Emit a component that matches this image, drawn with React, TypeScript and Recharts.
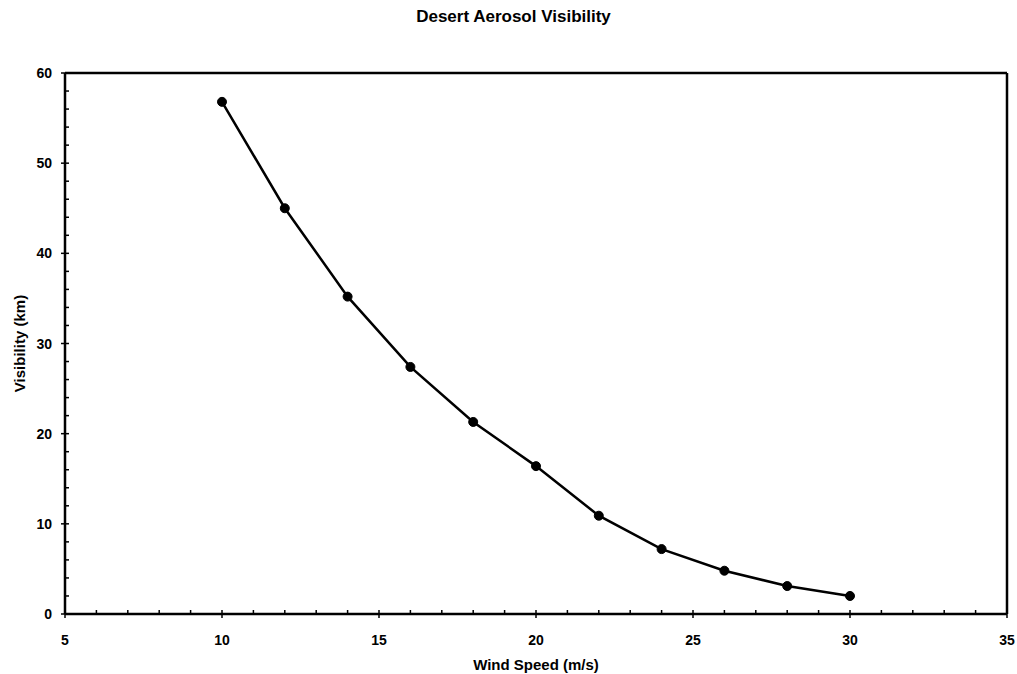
import React from 'react';
import {
  LineChart,
  Line,
  XAxis,
  YAxis,
  ReferenceLine,
} from 'recharts';

// values
const windSpeed = [10, 12, 14, 16, 18, 20, 22, 24, 26, 28, 30];
const visibility = [56.8, 45.0, 35.2, 27.4, 21.3, 16.4, 10.9, 7.2, 4.8, 3.1, 2.0];

const xTicks = [5, 6, 7, 8, 9, 10, 11, 12, 13, 14, 15, 16, 17, 18, 19, 20, 21, 22, 23, 24, 25, 26, 27, 28, 29, 30, 31, 32, 33, 34, 35];
const yTicks = [0, 2, 4, 6, 8, 10, 12, 14, 16, 18, 20, 22, 24, 26, 28, 30, 32, 34, 36, 38, 40, 42, 44, 46, 48, 50, 52, 54, 56, 58, 60];

const chartData = windSpeed.map((w, i) => ({ wind: w, vis: visibility[i] }));

const FONT = '"Liberation Sans", Arial, Helvetica, sans-serif';

const XTick = ({ x, y, payload }: any) => {
  const v = payload.value;
  const major = v % 5 === 0;
  return (
    <g>
      <line x1={x} x2={x} y1={major ? y + 4 : y} y2={y - 4} stroke="#000" strokeWidth={1.5} />
      {major && (
        <text x={x} y={y + 31} textAnchor="middle" fontFamily={FONT} fontWeight="bold" fontSize={14} fill="#000">
          {v}
        </text>
      )}
    </g>
  );
};

const YTick = ({ x, y, payload }: any) => {
  const v = payload.value;
  const major = v % 10 === 0;
  return (
    <g>
      <line x1={major ? x - 4 : x} x2={x + 4} y1={y} y2={y} stroke="#000" strokeWidth={1.5} />
      {major && (
        <text x={x - 13} y={y + 5} textAnchor="end" fontFamily={FONT} fontWeight="bold" fontSize={14} fill="#000">
          {v}
        </text>
      )}
    </g>
  );
};

const App: React.FC = () => {
  return (
    <div style={{ position: 'absolute', left: 0, top: 0, width: 1017, height: 674, background: '#fff' }}>
      <div
        style={{
          position: 'absolute',
          top: 7,
          left: 0,
          width: 1027,
          textAlign: 'center',
          fontFamily: FONT,
          fontWeight: 'bold',
          fontSize: 17,
        }}
      >
        Desert Aerosol Visibility
      </div>
      <LineChart
        width={1017}
        height={674}
        data={chartData}
        margin={{ top: 73, right: 10, bottom: 0, left: 0 }}
      >
        <XAxis
          type="number"
          dataKey="wind"
          domain={[5, 35]}
          ticks={xTicks}
          interval={0}
          height={60}
          tickSize={0}
          tickMargin={0}
          tickLine={false}
          tick={<XTick />}
          axisLine={{ stroke: '#000', strokeWidth: 2.5 }}
          label={{ value: 'Wind Speed (m/s)', position: 'insideBottom', offset: 4, fontFamily: FONT, fontWeight: 'bold', fontSize: 15, fill: '#000' }}
        />
        <YAxis
          type="number"
          domain={[0, 60]}
          ticks={yTicks}
          interval={0}
          width={65}
          tickSize={0}
          tickMargin={0}
          tickLine={false}
          tick={<YTick />}
          axisLine={{ stroke: '#000', strokeWidth: 2.5 }}
          label={{ value: 'Visibility (km)', angle: -90, position: 'insideLeft', offset: 20, style: { textAnchor: 'middle' }, fontFamily: FONT, fontWeight: 'bold', fontSize: 15, fill: '#000' }}
        />
        <ReferenceLine y={60} stroke="#000" strokeWidth={2.5} />
        <ReferenceLine x={35} stroke="#000" strokeWidth={2.5} />
        <Line
          type="linear"
          dataKey="vis"
          stroke="#000"
          strokeWidth={2.5}
          dot={{ r: 4.5, fill: '#000', stroke: '#000', strokeWidth: 1 }}
          isAnimationActive={false}
        />
      </LineChart>
    </div>
  );
};

export default App;
